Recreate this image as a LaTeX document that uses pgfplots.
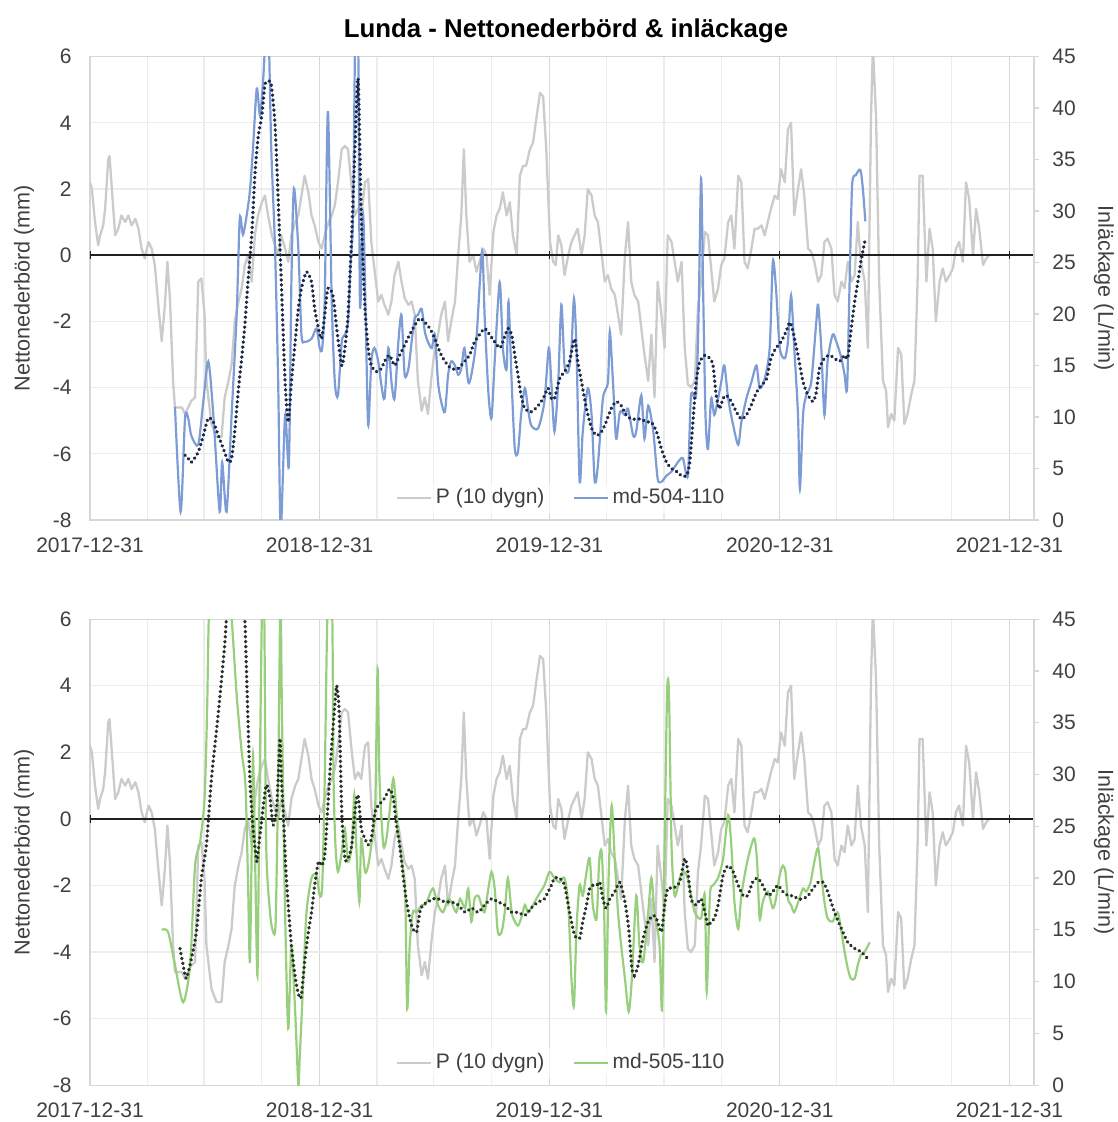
\documentclass[border=0pt]{standalone}
\usepackage{pgfplots}
\pgfplotsset{compat=1.18}
\usepackage{pgfplotstable}
\usepackage{fontspec}
\setmainfont{Liberation Sans}

\definecolor{pgrey}{RGB}{203,203,203}
\definecolor{mdblue}{RGB}{125,156,214}
\definecolor{mdgreen}{RGB}{152,207,124}
\definecolor{navydot}{RGB}{28,40,72}
\definecolor{darkdot}{RGB}{40,50,40}
\definecolor{gridmaj}{RGB}{215,215,215}
\definecolor{gridmin}{RGB}{236,236,236}
\definecolor{labc}{RGB}{64,64,64}

% days counted from 2017-12-31
% P (10 dygn), mm
\pgfplotstableread{
day v
0 2.2
3 2.0
8 1.0
13 0.3
16 0.6
21 0.9
24 1.4
29 2.9
31 3.0
34 2.2
40 0.6
45 0.8
50 1.2
56 1.0
61 1.2
66 0.9
72 1.1
77 0.8
82 0.2
87 -0.1
93 0.4
98 0.2
103 -0.3
109 -1.6
114 -2.6
119 -1.5
123 -0.2
127 -1.3
132 -3.8
135 -4.6
146 -4.6
151 -4.8
161 -4.4
167 -4.3
172 -0.8
177 -0.7
182 -1.8
185 -3.8
193 -5.1
201 -5.5
209 -5.5
214 -4.3
220 -3.8
225 -3.3
230 -2.0
236 -1.4
241 -1.0
246 -0.3
251 0.0
257 -0.8
262 0.6
267 1.2
273 1.6
278 1.8
283 1.2
289 0.6
294 0.3
299 0.0
304 0.6
310 0.2
315 -0.2
320 0.6
326 1.0
331 1.2
336 1.8
341 2.4
347 1.9
352 1.2
357 0.9
363 0.4
368 0.2
373 0.6
379 1.0
384 1.2
389 1.5
394 2.2
400 3.2
405 3.3
410 3.2
416 2.0
421 1.2
426 1.4
431 1.2
437 2.2
442 2.3
447 0.4
453 -0.6
458 -1.4
463 -1.2
468 -1.5
474 -1.8
479 -1.4
484 -0.6
490 -0.2
495 -0.8
500 -1.3
506 -1.5
511 -1.4
516 -1.8
521 -3.8
527 -4.7
532 -4.3
537 -4.8
543 -3.6
548 -2.8
553 -2.4
558 -1.8
564 -1.4
569 -2.6
574 -2.0
580 -1.4
585 0.0
590 1.2
594 3.2
598 1.2
603 -0.2
609 0.0
614 -0.5
619 -0.2
625 0.2
630 0.0
635 -1.2
641 0.7
646 1.2
651 1.4
656 1.9
662 1.2
667 1.6
672 0.6
678 0.0
683 2.4
688 2.7
693 2.7
699 3.2
704 3.4
709 4.1
715 4.9
720 4.8
725 3.2
731 0.4
736 -0.2
740 -0.3
744 0.6
749 0.3
754 -0.6
760 0.0
765 0.4
770 0.6
775 0.8
781 0.0
786 0.6
791 2.0
797 1.8
802 1.2
807 1.0
812 0.2
818 -0.8
823 -0.6
828 -1.0
834 -1.2
839 -1.8
844 -2.4
850 0.0
855 1.0
860 -0.8
865 -1.2
871 -1.4
876 -2.2
881 -3.0
887 -3.8
892 -2.4
897 -4.3
902 -0.8
908 -1.8
913 -2.8
918 0.6
924 0.4
929 -0.2
934 -0.8
940 -0.2
945 -2.8
950 -3.9
955 -4.0
961 -3.8
966 -1.6
971 -0.8
977 0.7
982 0.6
987 -0.4
992 -1.4
998 -1.0
1003 -0.3
1008 -0.1
1014 1.0
1019 1.2
1024 0.2
1030 2.4
1035 2.2
1040 -0.2
1045 -0.4
1051 0.2
1056 0.8
1061 0.8
1067 0.9
1072 0.6
1077 1.0
1082 1.4
1088 1.8
1093 1.7
1098 2.6
1104 2.2
1109 3.8
1114 4.0
1119 1.2
1125 2.0
1130 2.6
1135 1.8
1141 0.2
1146 0.1
1151 -0.2
1157 -0.8
1162 -0.6
1167 0.4
1172 0.5
1178 0.2
1183 -1.2
1188 -1.4
1194 -0.8
1199 -1.0
1204 -0.2
1210 -0.8
1215 -0.6
1220 1.0
1225 -0.2
1231 -0.8
1236 -2.8
1241 4.2
1244 6.3
1249 4.2
1254 -0.8
1260 -3.8
1265 -4.1
1268 -5.2
1273 -4.8
1278 -5.0
1284 -2.8
1289 -3.0
1294 -5.1
1299 -4.8
1305 -4.2
1310 -3.8
1315 -0.8
1318 2.4
1323 2.4
1329 -0.8
1334 0.8
1339 0.2
1344 -2.0
1350 -0.8
1355 -0.4
1360 -0.8
1366 -0.6
1371 -0.4
1376 0.2
1381 0.4
1387 -0.2
1392 2.2
1397 1.7
1403 0.0
1408 1.4
1413 0.8
1419 -0.3
1424 -0.1
1429 0.0
}\precip

% md-504-110, L/min
\pgfplotstableread{
day q
135 11.0
144 0.8
151 9.9
156 9.9
161 8.2
172 7.3
180 11.5
188 15.4
196 10.2
206 0.8
210 5.6
217 0.8
225 10.2
233 19.9
238 29.3
243 27.7
249 29.6
254 31.9
259 36.1
265 41.9
270 39.3
275 42.6
280 48.0
284 47.0
288 36.1
294 26.4
299 13.4
303 -1.0
310 10.2
316 5.3
320 23.1
324 32.2
331 26.4
336 18.0
341 17.3
352 17.6
360 18.6
365 16.7
369 16.7
373 21.5
378 39.7
384 21.5
389 13.4
394 12.1
400 17.3
405 18.0
410 19.2
414 24.8
418 29.6
422 50.0
426 48.0
429 20.9
434 29.6
438 19.9
442 9.2
447 15.4
452 16.7
458 15.4
463 13.1
468 11.8
474 16.7
479 13.4
484 11.8
490 17.3
495 19.9
500 14.1
506 14.7
511 17.3
516 19.6
521 19.9
527 20.5
532 18.3
537 17.3
543 16.7
548 18.0
553 13.4
558 11.5
564 10.5
569 14.1
574 15.4
580 15.0
585 14.1
590 14.7
595 16.7
601 13.4
606 14.1
614 17.6
623 26.1
627 19.9
633 12.4
638 9.9
643 15.4
651 23.1
656 16.7
662 14.7
665 21.2
670 13.4
675 6.9
680 6.6
685 10.2
691 12.8
696 10.8
701 9.2
712 8.9
722 11.5
729 16.7
733 13.4
738 8.6
744 13.4
749 20.9
754 15.0
760 14.4
765 16.7
769 21.5
773 16.7
778 3.7
783 8.6
791 12.8
797 10.2
802 3.7
807 5.3
815 11.8
823 13.4
826 18.3
831 13.4
836 7.9
842 10.5
850 10.2
855 10.8
863 8.2
868 8.6
876 12.1
881 7.9
887 11.1
895 8.6
902 4.0
908 3.7
916 4.3
924 4.7
934 5.6
942 6.0
950 4.3
955 12.1
963 12.1
967 19.9
971 33.2
974 23.1
978 10.2
982 6.9
987 11.8
992 10.2
998 11.8
1003 13.4
1008 15.0
1014 11.8
1022 9.2
1030 7.3
1035 9.5
1043 11.8
1051 13.4
1059 15.0
1064 12.8
1072 13.7
1080 16.7
1085 25.1
1090 22.5
1096 16.7
1104 15.7
1109 17.3
1114 21.8
1119 16.7
1125 10.2
1128 3.0
1133 10.2
1138 12.1
1146 13.4
1154 19.2
1157 20.9
1162 16.7
1167 10.2
1172 15.4
1180 18.0
1186 17.3
1194 15.7
1199 14.1
1203 12.8
1207 23.1
1211 32.5
1217 33.5
1224 34.0
1228 32.2
1232 29.0
}\mdA

% md-504-110, moving average
\pgfplotstableread{
day q
151 6.3
156 6.0
161 5.6
172 6.6
180 8.2
188 9.9
196 9.5
204 8.2
212 6.9
220 5.6
225 6.0
230 8.6
236 12.8
241 15.7
246 18.9
251 23.1
257 27.7
262 33.5
267 37.1
273 39.3
278 42.3
283 42.6
288 42.3
294 38.4
299 31.2
304 23.1
310 13.4
315 9.5
320 13.4
326 17.3
331 20.5
336 22.5
344 24.1
352 23.1
357 20.5
363 18.6
368 17.6
373 19.9
378 22.5
386 21.8
392 18.6
400 15.0
405 16.7
410 19.9
415 26.4
421 36.1
426 42.9
431 29.6
437 20.5
442 16.7
447 15.0
455 14.4
463 14.7
468 15.4
476 16.0
484 15.0
492 16.0
500 17.0
508 18.0
516 18.9
524 19.6
532 19.2
540 18.6
548 17.6
556 16.3
564 15.4
574 14.7
585 14.7
595 15.4
603 16.0
611 17.3
619 18.0
627 18.6
635 18.0
643 17.3
651 16.7
656 17.3
664 18.6
670 18.0
675 16.0
680 14.1
685 12.1
691 10.8
701 10.5
712 11.1
720 11.8
728 12.8
733 11.8
738 11.8
746 13.7
754 14.4
762 15.4
770 17.6
775 15.4
781 13.4
789 10.8
797 8.9
805 8.2
813 8.6
820 9.5
828 10.8
836 11.5
844 11.1
852 10.2
860 9.8
868 9.8
876 9.8
884 9.5
892 9.5
900 8.6
908 6.9
916 5.6
924 5.0
932 4.7
940 4.3
948 4.3
953 5.6
958 9.5
963 13.4
969 15.4
977 16.0
985 15.7
990 15.0
995 12.1
1000 10.8
1006 11.8
1011 12.1
1019 11.5
1027 10.5
1035 9.8
1043 10.2
1051 11.2
1059 12.4
1067 13.1
1075 13.7
1082 15.7
1090 16.7
1098 17.3
1106 18.3
1112 19.2
1117 18.3
1125 16.0
1133 13.4
1141 12.1
1149 11.5
1154 12.4
1159 14.7
1167 15.7
1175 16.0
1183 15.7
1191 15.4
1199 16.0
1204 15.7
1209 18.3
1215 21.2
1220 23.1
1225 25.1
1231 27.0
}\mdAavg

% md-505-110, L/min
\pgfplotstableread{
day q
114 15.0
124 14.8
135 11.6
148 8.0
159 11.6
167 21.2
175 23.5
182 27.7
186 36.0
189 45.7
196 53.7
206 53.7
217 48.9
225 45.1
233 37.7
241 32.2
247 29.0
251 20.0
254 11.9
257 23.2
259 31.9
262 23.2
266 10.6
269 26.4
273 45.1
275 48.9
277 45.1
280 23.2
286 16.7
291 14.8
295 15.8
299 29.6
302 45.1
303 47.3
305 36.0
310 16.7
315 5.5
320 13.5
326 7.1
331 0.0
333 2.3
339 10.3
344 16.7
352 20.0
360 20.3
365 18.3
369 19.3
373 29.6
377 45.1
381 48.9
385 45.1
387 29.6
390 23.2
394 20.6
400 22.5
405 24.8
410 21.6
416 23.2
420 28.0
423 23.2
428 17.7
431 23.8
437 20.6
442 21.2
447 23.2
453 26.4
457 40.2
460 29.6
466 23.2
471 23.8
476 26.4
482 29.6
487 26.4
492 23.2
498 20.6
501 18.3
504 7.4
508 13.5
513 16.7
519 16.7
527 17.4
532 17.4
537 18.0
545 19.0
553 17.4
561 16.7
569 18.0
574 17.7
582 16.7
588 18.0
596 17.1
601 19.0
606 15.8
611 18.0
617 18.3
622 17.4
627 16.7
633 19.0
638 20.6
643 19.0
648 14.8
654 14.8
659 16.7
664 20.0
670 16.7
675 15.8
680 15.4
685 16.1
691 17.4
696 16.7
704 17.4
712 18.3
722 19.3
730 20.6
738 20.0
746 19.6
754 20.0
760 17.4
765 10.3
769 7.7
773 15.1
778 19.3
783 18.3
789 20.6
794 21.9
799 17.4
805 16.1
809 21.6
813 22.5
817 16.7
820 7.1
824 20.0
829 27.0
834 21.6
839 16.7
844 13.5
850 10.3
856 7.1
861 10.3
868 18.3
873 13.5
879 11.9
887 16.7
892 20.0
897 16.7
905 13.5
909 7.4
913 23.2
917 38.0
920 37.7
924 23.2
929 18.3
937 20.0
942 20.6
948 20.3
953 19.0
961 16.7
971 16.1
977 18.3
980 9.0
985 18.3
990 19.3
998 20.0
1006 21.9
1014 26.1
1019 23.2
1024 17.7
1030 15.1
1035 18.3
1043 21.2
1051 23.2
1056 23.8
1060 21.6
1064 16.1
1069 17.7
1077 18.7
1085 17.1
1090 18.0
1096 20.3
1101 21.2
1105 20.6
1109 18.0
1114 17.4
1119 16.7
1127 18.0
1133 19.0
1138 18.7
1145 19.6
1151 21.6
1157 22.9
1162 20.3
1167 17.7
1172 16.1
1180 15.8
1188 16.7
1194 14.8
1199 12.9
1204 11.3
1209 10.3
1215 10.3
1220 11.6
1225 12.6
1231 12.9
1239 13.8
}\mdB

% md-505-110, moving average
\pgfplotstableread{
day q
143 13.2
148 11.6
153 10.3
161 12.2
169 14.8
177 20.0
185 23.2
193 29.6
204 36.0
214 42.5
220 47.3
236 48.9
243 47.3
246 45.1
249 39.3
254 29.6
259 24.8
265 21.6
267 22.5
273 25.7
280 29.0
286 27.7
291 25.1
296 26.4
299 29.6
302 33.5
304 29.6
307 26.4
312 20.0
320 13.5
328 9.7
335 8.4
341 11.9
347 14.8
352 16.7
357 19.3
363 21.6
368 21.2
373 22.2
378 27.0
384 32.8
389 36.7
392 38.6
396 36.0
400 26.4
405 21.9
410 21.9
416 23.2
422 27.0
426 28.0
431 24.8
437 23.8
442 23.2
447 23.8
453 26.4
458 27.0
468 27.7
476 28.6
482 27.7
487 25.1
492 23.2
498 20.0
503 17.7
508 16.1
513 15.1
519 14.8
524 16.7
529 17.4
537 17.7
545 18.0
553 18.0
564 17.7
574 17.7
585 17.4
596 16.7
606 17.1
617 16.7
627 17.4
638 18.0
648 17.7
659 17.4
670 16.7
680 16.7
691 16.4
701 17.1
712 17.7
722 18.0
733 19.3
738 20.0
746 20.0
754 19.3
762 16.7
770 14.5
778 14.2
783 15.8
789 17.4
794 19.0
799 19.3
805 19.3
810 19.6
815 18.0
820 17.1
826 18.0
834 18.7
842 19.6
850 17.7
856 15.1
861 11.3
865 10.6
871 11.6
879 14.2
887 15.8
895 16.4
900 16.1
908 14.8
913 17.4
918 19.0
926 19.0
937 19.6
945 21.9
950 20.6
955 18.0
963 17.4
971 18.0
977 16.7
982 15.4
987 15.8
992 16.1
998 17.4
1006 20.3
1014 21.2
1022 20.6
1030 19.3
1038 18.3
1045 18.3
1053 19.6
1061 20.0
1069 19.3
1077 18.3
1085 18.7
1093 19.3
1101 18.7
1109 18.3
1117 18.3
1125 18.0
1133 18.0
1141 18.3
1149 19.0
1157 19.6
1165 19.6
1172 18.7
1183 16.7
1194 15.1
1204 13.8
1215 13.2
1225 12.9
1236 12.2
}\mdBavg

\tikzset{zeroline/.style={black!88, line width=0.7pt}}

\pgfplotsset{
  /pgf/number format/assume math mode=true,
  panel/.style={
    scale only axis, width=472pt, anchor=south west,
    xmin=0, xmax=1500,
    tick label style={font=\fontsize{10.5pt}{12pt}\selectfont, text=labc},
    label style={font=\fontsize{10.8pt}{12pt}\selectfont, text=labc},
  },
  leftax/.style={
    panel,
    ymin=-8, ymax=6,
    xtick={0,365,730,1096,1461},
    xticklabels={2017-12-31,2018-12-31,2019-12-31,2020-12-31,2021-12-31},
    minor xtick={91,181,273,456,546,638,821,912,1004,1186,1277,1369},
    ytick={-8,-6,-4,-2,0,2,4,6},
    yticklabels={-8,-6,-4,-2,0,2,4,6},
    xmajorgrids, xminorgrids, ymajorgrids,
    major x grid style={gridmaj, line width=0.6pt},
    minor x grid style={gridmin, line width=0.6pt},
    major y grid style={gridmin, line width=0.6pt},
    major tick length=0pt, minor tick length=0pt,
    axis line style={gridmaj, line width=0.6pt},
    xticklabel style={anchor=center, inner sep=0pt, yshift=-12.5pt},
    yticklabel style={anchor=east, inner sep=0pt, xshift=-9pt},
    ylabel={Nettonederbörd (mm)},
    ylabel style={at={(axis description cs:-0.07,0.5)}, anchor=center},
  },
  rightax/.style={
    panel,
    ymin=0, ymax=45,
    axis x line=none, axis y line*=right,
    ytick={0,5,...,45},
    tick align=outside, major tick length=2.5pt,
    tick style={gridmaj, line width=0.6pt},
    axis line style={gridmaj, line width=0.6pt, -},
    yticklabel style={anchor=west, inner sep=0pt, xshift=6.5pt},
    ylabel={Inläckage (L/min)},
    ylabel style={at={(axis description cs:1.074,0.5)}, anchor=center, rotate=180},
    legend style={at={(axis description cs:0.5,0.048)}, anchor=center,
      draw=none, fill=white, fill opacity=0.6, text opacity=1,
      font=\fontsize{10.5pt}{12pt}\selectfont, text=labc,
      legend columns=2, inner sep=1pt,
      /tikz/every even column/.append style={column sep=12pt}},
    legend image code/.code={\draw[##1] (0pt,0pt) -- (17pt,0pt);},
  },
  pline/.style={pgrey, line width=1.15pt, line join=round},
  dotline/.style={line width=1.75pt, line cap=round, dash pattern=on 0.15pt off 2.35pt, smooth, tension=0.4},
}

\begin{document}
\begin{tikzpicture}
\useasboundingbox (0pt,0pt) rectangle (558.5pt,561pt);

\node[font=\bfseries\fontsize{12.9pt}{15pt}\selectfont, anchor=base] at (283pt,542.3pt)
  {Lunda - Nettonederbörd \& inläckage};

% ---------- upper panel ----------
\begin{axis}[leftax, height=231.7pt, at={(45pt,301pt)}]
  \addplot[pline] table[x=day, y=v] {\precip};
  \draw[zeroline] (axis cs:0,0) -- (axis cs:1500,0);
  \draw[zeroline] (axis cs:0,-0.13) -- (axis cs:0,0.13);
  \draw[zeroline] (axis cs:365,-0.13) -- (axis cs:365,0.13);
  \draw[zeroline] (axis cs:730,-0.13) -- (axis cs:730,0.13);
  \draw[zeroline] (axis cs:1096,-0.13) -- (axis cs:1096,0.13);
  \draw[zeroline] (axis cs:1461,-0.13) -- (axis cs:1461,0.13);
\end{axis}
\begin{axis}[rightax, height=231.7pt, at={(45pt,301pt)}]
  \addlegendimage{pline}
  \addlegendentry{P (10 dygn)}
  \addplot[mdblue, line width=1.1pt, smooth, tension=0.45] table[x=day, y=q] {\mdA};
  \addlegendentry{md-504-110}
  \addplot[navydot, dotline, forget plot] table[x=day, y=q] {\mdAavg};
\end{axis}

% ---------- lower panel ----------
\begin{axis}[leftax, height=233pt, at={(45pt,18.4pt)}]
  \addplot[pline] table[x=day, y=v] {\precip};
  \draw[zeroline] (axis cs:0,0) -- (axis cs:1500,0);
  \draw[zeroline] (axis cs:0,-0.13) -- (axis cs:0,0.13);
  \draw[zeroline] (axis cs:365,-0.13) -- (axis cs:365,0.13);
  \draw[zeroline] (axis cs:730,-0.13) -- (axis cs:730,0.13);
  \draw[zeroline] (axis cs:1096,-0.13) -- (axis cs:1096,0.13);
  \draw[zeroline] (axis cs:1461,-0.13) -- (axis cs:1461,0.13);
\end{axis}
\begin{axis}[rightax, height=233pt, at={(45pt,18.4pt)}]
  \addlegendimage{pline}
  \addlegendentry{P (10 dygn)}
  \addplot[mdgreen, line width=1.1pt, smooth, tension=0.45] table[x=day, y=q] {\mdB};
  \addlegendentry{md-505-110}
  \addplot[darkdot, dotline, forget plot] table[x=day, y=q] {\mdBavg};
\end{axis}
\end{tikzpicture}
\end{document}
